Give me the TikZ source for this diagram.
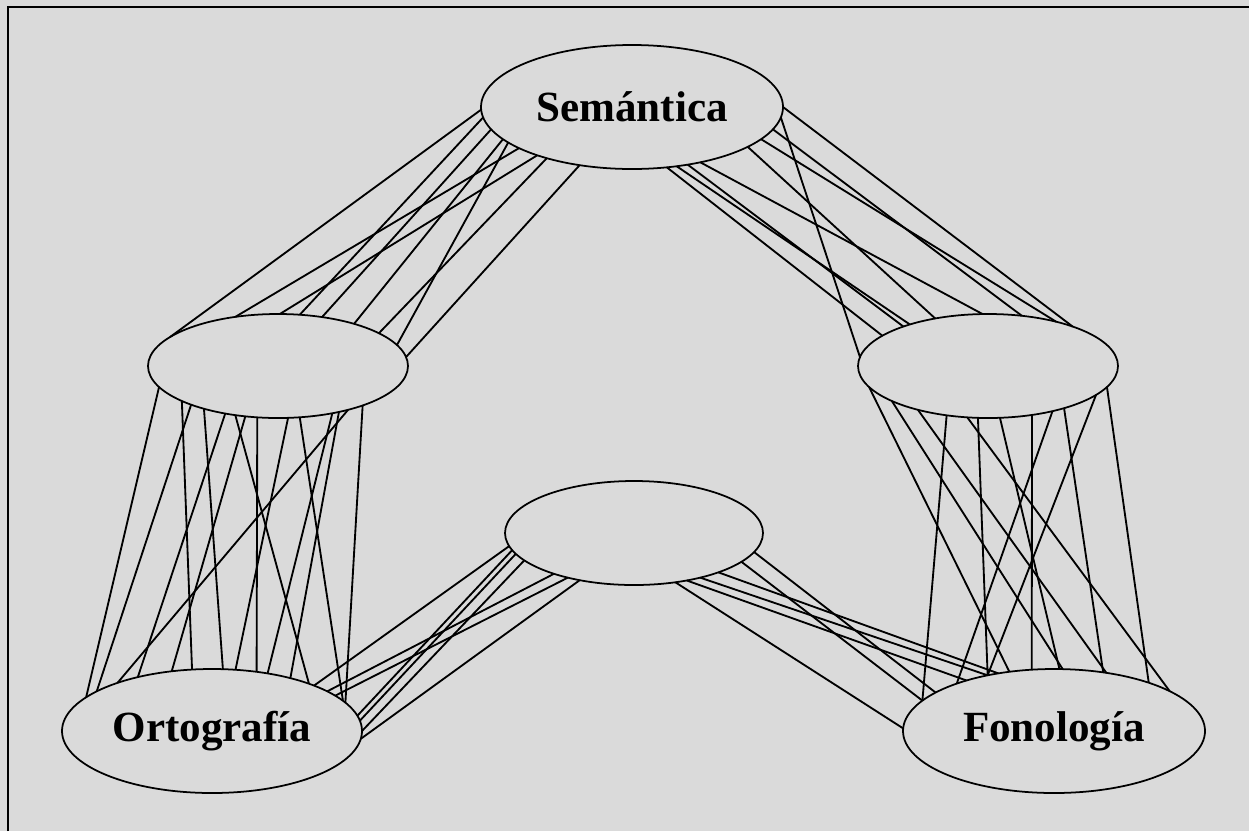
\documentclass[tikz,border=0pt]{standalone}
\usepackage{fontspec}
\setmainfont{Liberation Serif}
\usetikzlibrary{shapes.geometric}
\definecolor{panelgray}{HTML}{DADADA}
\tikzset{
  layer/.style={draw, ellipse, line width=1pt, inner sep=0pt, outer sep=0pt,
    minimum width=5.2cm, minimum height=2.08cm,
    font=\fontsize{24.5}{28}\selectfont\bfseries},
  big/.style={minimum width=6.04cm, minimum height=2.48cm},
  link/.style={line width=1.05pt}
}
\begin{document}
\begin{tikzpicture}
\fill[panelgray] (0,0) rectangle (24.98,-16.62);
\useasboundingbox (0,0) rectangle (24.98,-16.62);
\draw[line width=1.6pt] (0.16,-16.62) -- (0.16,-0.14) -- (24.98,-0.14);
\node[layer,big] (sem) at (12.64,-2.14) {Semántica};
\node[layer] (hl) at (5.56,-7.32) {};
\node[layer] (hr) at (19.76,-7.32) {};
\node[layer,minimum width=5.16cm] (hm) at (12.68,-10.66) {};
\node[layer,big,minimum width=6cm] (ort) at (4.24,-14.62) {Ortografía};
\node[layer,big] (fon) at (21.08,-14.62) {Fonología};
\draw[link] (sem.181) -- (hl.165);
\draw[link] (sem.200) -- (hl.131);
\draw[link] (sem.207) -- (hl.88);
\draw[link] (sem.184) -- (hl.67);
\draw[link] (sem.189) -- (hl.48);
\draw[link] (sem.194) -- (hl.29);
\draw[link] (sem.211) -- (hl.18);
\draw[link] (sem.196) -- (hl.10);
\draw[link] (sem.228) -- (hl.4);
\draw[link] (sem.0) -- (hr.25);
\draw[link] (sem.356) -- (hr.176);
\draw[link] (sem.351) -- (hr.56);
\draw[link] (sem.346) -- (hr.33);
\draw[link] (sem.341) -- (hr.138);
\draw[link] (sem.321) -- (hr.96);
\draw[link] (sem.300) -- (hr.164);
\draw[link] (sem.314) -- (hr.155);
\draw[link] (sem.307) -- (hr.152);
\draw[link] (hl.190) -- (ort.165);
\draw[link] (hl.204) -- (ort.161);
\draw[link] (hl.200) -- (ort.108);
\draw[link] (hl.210) -- (ort.80);
\draw[link] (hl.222) -- (ort.144);
\draw[link] (hl.237) -- (ort.124);
\draw[link] (hl.229) -- (ort.26);
\draw[link] (hl.248) -- (ort.53);
\draw[link] (hl.281) -- (ort.69);
\draw[link] (hl.293) -- (ort.13);
\draw[link] (hl.319) -- (ort.46);
\draw[link] (hl.323) -- (ort.34);
\draw[link] (hl.328) -- (ort.153);
\draw[link] (hl.335) -- (ort.12);
\draw[link] (hr.190) -- (fon.127);
\draw[link] (hr.200) -- (fon.82);
\draw[link] (hr.212) -- (fon.48);
\draw[link] (hr.230) -- (fon.167);
\draw[link] (hr.248) -- (fon.19);
\draw[link] (hr.259) -- (fon.140);
\draw[link] (hr.283) -- (fon.85);
\draw[link] (hr.312) -- (fon.110);
\draw[link] (hr.325) -- (fon.154);
\draw[link] (hr.345) -- (fon.140);
\draw[link] (hr.331) -- (fon.50);
\draw[link] (hr.350) -- (fon.27);
\draw[link] (hm.186) -- (ort.24);
\draw[link] (hm.188) -- (ort.6);
\draw[link] (hm.190) -- (ort.4);
\draw[link] (hm.194) -- (ort.0);
\draw[link] (hm.207) -- (ort.19);
\draw[link] (hm.214) -- (ort.16);
\draw[link] (hm.221) -- (ort.357);
\draw[link] (hm.351) -- (fon.162);
\draw[link] (hm.345) -- (fon.167);
\draw[link] (hm.310) -- (fon.179);
\draw[link] (hm.335) -- (fon.134);
\draw[link] (hm.326) -- (fon.140);
\draw[link] (hm.318) -- (fon.150);
\end{tikzpicture}
\end{document}
